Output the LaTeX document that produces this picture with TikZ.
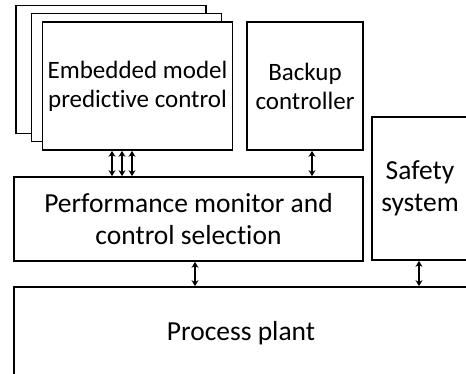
\documentclass[tikz,border=0pt]{standalone}
\usepackage{fontspec}
\setmainfont{Carlito}[Ligatures=NoCommon]
\usetikzlibrary{arrows.meta}

\begin{document}
\begin{tikzpicture}[x=1pt,y=1pt,yscale=-1,xscale=1,
	blockbox/.style={draw=black, line width=1.7pt, fill=white, align=center, inner sep=0pt},
	smalltext/.style={font=\fontsize{25}{29}\selectfont},
	bigtext/.style={font=\fontsize{27.5}{32}\selectfont},
	linkarrow/.style={line width=1.3pt, {Stealth[length=6pt,width=7pt]}-{Stealth[length=6pt,width=7pt]}}]
		\useasboundingbox (0,0) rectangle (466,373);
		\clip (0,0) rectangle (466,373);

		% Stacked copies behind the MPC block
		\node[blockbox, minimum width=190pt, minimum height=128pt] (mpcback) at (111,69.5) {};
		\node[blockbox, minimum width=190pt, minimum height=128pt] (mpcmid) at (126.5,77.5) {};

		% The front MPC block and the backup controller
		\node[blockbox, smalltext, minimum width=190pt, minimum height=128pt] (mpc) at (137.5,86) {Embedded model\\predictive control};
		\node[blockbox, smalltext, minimum width=116pt, minimum height=128pt] (backup) at (305,86) {Backup\\controller};

		% Monitor, safety system and plant
		\node[blockbox, bigtext, minimum width=349pt, minimum height=84pt] (perf) at (188.5,219) {Performance monitor and\\control selection};
		\node[blockbox, bigtext, minimum width=96pt, minimum height=143pt] (safety) at (420,188.5) {Safety\\system};
		\node[blockbox, bigtext, minimum width=454pt, minimum height=93pt] (plant) at (241,333.5) {Process plant};

		% Two-way links
		\foreach \xa in {112,122,132}
			\draw[linkarrow] (\xa,0 |- mpc.south) -- (\xa,0 |- perf.north);
		\draw[linkarrow] (312,0 |- backup.south) -- (312,0 |- perf.north);
		\draw[linkarrow] (195,0 |- perf.south) -- (195,0 |- plant.north);
		\draw[linkarrow] (419,0 |- safety.south) -- (419,0 |- plant.north);
	\end{tikzpicture}
\end{document}
